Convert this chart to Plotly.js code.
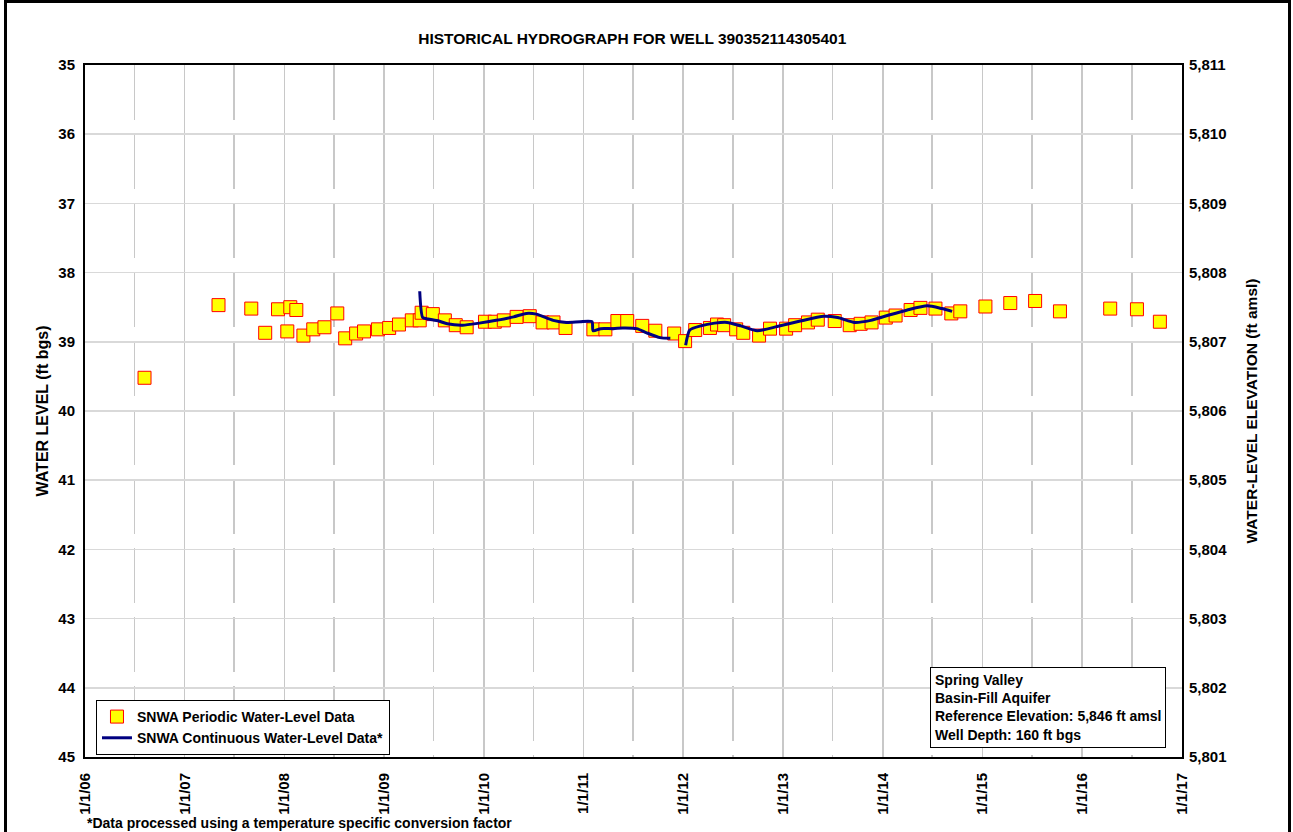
<!DOCTYPE html>
<html>
<head>
<meta charset="utf-8">
<script src="https://cdn.plot.ly/plotly-3.0.1.min.js"></script>
<style>
  html, body { margin:0; padding:0; background:#fff; }
  #chart { width:1293px; height:832px; }
  #frame { position:absolute; left:4px; top:0px; width:1281px; height:840px; border:3px solid #000; pointer-events:none; }
</style>
</head>
<body>
<div id="chart"></div>
<div id="frame"></div>
<script>
// Periodic water-level measurements (ft bgs)
const periodicDates = [
  '2006-08-07','2007-05-05','2007-09-02','2007-10-23','2007-12-09','2008-01-12','2008-01-23','2008-02-14',
  '2008-03-11','2008-04-16','2008-05-27','2008-07-13','2008-08-11','2008-09-20','2008-10-19','2008-12-09',
  '2009-01-19','2009-02-24','2009-04-12','2009-05-11','2009-05-18','2009-06-28','2009-08-11','2009-09-20',
  '2009-10-30','2010-01-05','2010-02-10','2010-03-15','2010-05-01','2010-06-18','2010-08-04','2010-09-13',
  '2010-10-27','2011-02-06','2011-03-22','2011-05-05','2011-06-10','2011-08-04','2011-09-21','2011-11-29',
  '2012-01-08','2012-02-14','2012-04-08','2012-05-04','2012-05-30','2012-07-13','2012-08-08','2012-10-05',
  '2012-11-14','2013-01-12','2013-02-14','2013-04-02','2013-05-08','2013-07-09','2013-09-02','2013-10-12',
  '2013-11-21','2014-01-12','2014-02-17','2014-04-13','2014-05-19','2014-07-13','2014-09-09','2014-10-12',
  '2015-01-12','2015-04-13','2015-07-13','2015-10-12','2016-04-13','2016-07-20','2016-10-12'
];
const periodicLevels = [
  39.52,38.47,38.52,38.87,38.53,38.85,38.50,38.54,
  38.91,38.82,38.79,38.59,38.95,38.88,38.85,38.82,
  38.80,38.75,38.69,38.69,38.58,38.60,38.69,38.76,
  38.79,38.71,38.71,38.69,38.64,38.63,38.72,38.72,
  38.80,38.82,38.82,38.70,38.70,38.77,38.84,38.88,
  38.99,38.83,38.80,38.75,38.76,38.82,38.87,38.91,
  38.81,38.81,38.76,38.72,38.68,38.70,38.76,38.74,
  38.72,38.65,38.62,38.54,38.51,38.52,38.59,38.56,
  38.49,38.44,38.41,38.56,38.52,38.53,38.71
];
// Continuous water-level record (ft bgs); null marks a data gap
const continuousDates = [
  '2009-05-11','2009-05-22','2009-06-10','2009-07-20','2009-08-20','2009-10-15','2009-12-15','2010-02-15',
  '2010-04-20','2010-06-05','2010-07-12','2010-09-12','2010-10-30','2010-12-20','2011-02-01','2011-02-05',
  '2011-03-05','2011-04-20','2011-05-25','2011-07-15','2011-08-20','2011-10-08','2011-11-15','2011-12-20',
  '2012-01-10','2012-01-25','2012-03-05','2012-04-25','2012-06-10','2012-07-30','2012-09-28','2012-12-10',
  '2013-03-05','2013-05-30','2013-07-20','2013-09-20','2013-11-18','2014-01-18','2014-04-01','2014-06-13',
  '2014-08-05','2014-09-12'
];
const continuousLevels = [
  38.27,38.65,38.67,38.70,38.74,38.76,38.73,38.69,
  38.64,38.59,38.60,38.69,38.72,38.71,38.71,38.84,
  38.81,38.81,38.80,38.81,38.87,38.94,38.95,null,
  39.05,38.83,38.77,38.73,38.72,38.77,38.84,38.78,
  38.70,38.63,38.65,38.72,38.69,38.62,38.54,38.48,
  38.52,38.56
];
const yearTicks = ['2006-01-01','2007-01-01','2008-01-01','2009-01-01','2010-01-01','2011-01-01',
  '2012-01-01','2013-01-01','2014-01-01','2015-01-01','2016-01-01','2017-01-01'];
const yearLabels = ['1/1/06','1/1/07','1/1/08','1/1/09','1/1/10','1/1/11','1/1/12','1/1/13','1/1/14','1/1/15','1/1/16','1/1/17'];
const levelRange = [45, 35];
const elevRange = [5801, 5811];
const infoLines = ['Spring Valley','Basin-Fill Aquifer','Reference Elevation: 5,846 ft amsl','Well Depth: 160 ft bgs'];

const FONT = 'Liberation Sans, Arial, sans-serif';
const tickFont = {family: FONT, size: 15, color: '#000', weight: 'bold'};

const traces = [
  {
    x: periodicDates, y: periodicLevels, type: 'scatter', mode: 'markers',
    name: 'SNWA Periodic Water-Level Data',
    marker: {symbol: 'square', size: 13, color: '#ffff00', line: {color: '#ff0000', width: 1}},
    hoverinfo: 'x+y'
  },
  {
    x: continuousDates, y: continuousLevels, type: 'scatter', mode: 'lines',
    name: 'SNWA Continuous Water-Level Data*',
    line: {color: '#000080', width: 3, shape: 'spline', smoothing: 0.6},
    connectgaps: false
  },
  {
    x: [null], y: [null], yaxis: 'y2', type: 'scatter', mode: 'markers',
    showlegend: false, hoverinfo: 'skip'
  }
];

const layout = {
  width: 1293, height: 832,
  margin: {l: 85, r: 111, t: 65, b: 75},
  paper_bgcolor: '#fff', plot_bgcolor: '#fff',
  font: {family: FONT, color: '#000'},
  title: {text: '<b>HISTORICAL HYDROGRAPH FOR WELL 390352114305401</b>',
          font: {family: FONT, size: 15.5, color: '#000'}, x: 0.489, xanchor: 'center', y: 0.954, yanchor: 'middle'},
  showlegend: true,
  legend: {
    x: 0.01, y: 0.0824, xanchor: 'left', yanchor: 'top',
    bgcolor: '#fff', bordercolor: '#000', borderwidth: 1,
    font: {family: FONT, size: 14, color: '#000', weight: 'bold'},
    tracegroupgap: 0, itemwidth: 30
  },
  xaxis: {
    type: 'date', range: ['2006-01-01', '2017-01-01'],
    tickmode: 'array', tickvals: yearTicks, ticktext: yearLabels,
    tickangle: -90, tickfont: tickFont, ticklabelstandoff: 8,
    showgrid: true, gridcolor: '#c8c8c8', gridwidth: 1.5,
    minor: {dtick: 'M6', tick0: '2006-01-01', showgrid: true, gridcolor: '#c8c8c8', gridwidth: 1.5, griddash: '55px,14px'},
    showline: true, linecolor: '#000', linewidth: 2, mirror: true,
    ticks: '', zeroline: false
  },
  yaxis: {
    range: levelRange, dtick: 1, tick0: 35,
    tickfont: tickFont, ticklabelstandoff: 5,
    title: {text: '<b>WATER LEVEL (ft bgs)</b>', font: {family: FONT, size: 16, color: '#000'}, standoff: 6},
    showgrid: true, gridcolor: '#d9d9d9', gridwidth: 1.5,
    showline: true, linecolor: '#000', linewidth: 2, mirror: true,
    ticks: '', zeroline: false
  },
  yaxis2: {
    overlaying: 'y', side: 'right', range: elevRange, dtick: 1, tick0: 5801,
    tickformat: ',d', tickfont: tickFont, ticklabelstandoff: 6,
    title: {text: '<b>WATER-LEVEL ELEVATION (ft amsl)</b>', font: {family: FONT, size: 15.5, color: '#000'}, standoff: 19},
    showgrid: false, showline: false, ticks: '', zeroline: false
  },
  annotations: [
    {
      xref: 'paper', yref: 'paper', x: 0.7703, y: 0.130, xanchor: 'left', yanchor: 'top',
      text: infoLines.map(s => '<b>' + s + '</b>').join('<br>'), align: 'left', showarrow: false,
      font: {family: FONT, size: 14, color: '#000'},
      bgcolor: '#fff', bordercolor: '#000', borderwidth: 1, borderpad: 4
    },
    {
      xref: 'paper', yref: 'paper', x: 0.0, y: -0.0954, xanchor: 'left', yanchor: 'middle',
      text: '<b>*Data processed using a temperature specific conversion factor</b>', showarrow: false,
      font: {family: FONT, size: 14, color: '#000'}
    }
  ]
};

Plotly.newPlot('chart', traces, layout, {displayModeBar: false, staticPlot: true});
</script>
</body>
</html>
